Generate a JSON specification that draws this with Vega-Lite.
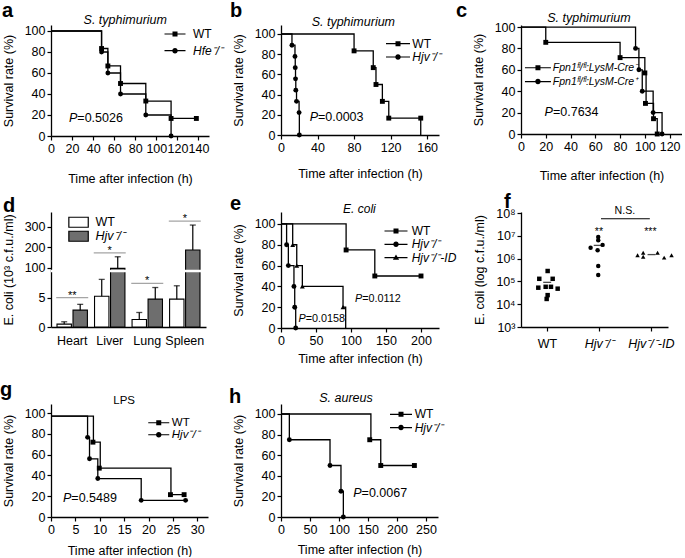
{
 "$schema": "https://vega.github.io/schema/vega-lite/v6.json",
 "padding": {"left": 0, "top": 0, "right": 0, "bottom": 0},
 "config": {
  "font": "Liberation Sans",
  "view": {"stroke": null},
  "axis": {"grid": false, "domainColor": "#000", "tickColor": "#000", "labelColor": "#000", "titleColor": "#000", "labelFontSize": 12.5, "titleFontSize": 12.5, "titleFontWeight": "normal", "tickSize": 4, "labelPadding": 2, "labelFlush": false, "labelOverlap": false, "domainWidth": 1.3, "tickWidth": 1.2, "titlePadding": 9, "tickCount": 40},
  "axisX": {"titlePadding": 14},
  "legend": {"labelFontSize": 12, "labelColor": "#000", "padding": 0, "symbolSize": 100, "symbolStrokeWidth": 1.2, "symbolStrokeColor": "#000", "symbolFillColor": "#000", "symbolOpacity": 1},
  "title": {"anchor": "start", "frame": "group", "fontSize": 20, "fontWeight": "bold", "color": "#000"},
  "text": {"color": "#000", "font": "Liberation Sans"}
 },
 "datasets": {
  "a_line": [
   {"g": "WT", "t": 0, "s": 100}, {"g": "WT", "t": 48, "s": 83.3}, {"g": "WT", "t": 54, "s": 66.7}, {"g": "WT", "t": 66, "s": 50}, {"g": "WT", "t": 90, "s": 33.3}, {"g": "WT", "t": 114, "s": 16.7}, {"g": "WT", "t": 138, "s": 16.7},
   {"g": "Hfe⁻/⁻", "t": 0, "s": 100}, {"g": "Hfe⁻/⁻", "t": 48, "s": 80}, {"g": "Hfe⁻/⁻", "t": 54, "s": 60}, {"g": "Hfe⁻/⁻", "t": 66, "s": 40}, {"g": "Hfe⁻/⁻", "t": 90, "s": 20}, {"g": "Hfe⁻/⁻", "t": 114, "s": 0}
  ],
  "a_pts": [
   {"g": "WT", "t": 48, "s": 83.3}, {"g": "WT", "t": 54, "s": 66.7}, {"g": "WT", "t": 66, "s": 50}, {"g": "WT", "t": 90, "s": 33.3}, {"g": "WT", "t": 114, "s": 16.7}, {"g": "WT", "t": 138, "s": 16.7},
   {"g": "Hfe⁻/⁻", "t": 48, "s": 80}, {"g": "Hfe⁻/⁻", "t": 54, "s": 60}, {"g": "Hfe⁻/⁻", "t": 66, "s": 40}, {"g": "Hfe⁻/⁻", "t": 90, "s": 20}, {"g": "Hfe⁻/⁻", "t": 114, "s": 0}
  ],
  "b_line": [
   {"g": "WT", "t": 0, "s": 100}, {"g": "WT", "t": 80, "s": 83.3}, {"g": "WT", "t": 101, "s": 66.7}, {"g": "WT", "t": 104, "s": 50}, {"g": "WT", "t": 111, "s": 33.3}, {"g": "WT", "t": 118, "s": 16.7}, {"g": "WT", "t": 153, "s": 0},
   {"g": "Hjv⁻/⁻", "t": 0, "s": 100}, {"g": "Hjv⁻/⁻", "t": 12, "s": 88.9}, {"g": "Hjv⁻/⁻", "t": 15.3, "s": 77.8}, {"g": "Hjv⁻/⁻", "t": 15.6, "s": 66.7}, {"g": "Hjv⁻/⁻", "t": 15.9, "s": 55.6}, {"g": "Hjv⁻/⁻", "t": 16.2, "s": 44.4}, {"g": "Hjv⁻/⁻", "t": 17, "s": 33.3}, {"g": "Hjv⁻/⁻", "t": 19.8, "s": 22.2}, {"g": "Hjv⁻/⁻", "t": 20.1, "s": 0}
  ],
  "b_pts": [
   {"g": "WT", "t": 80, "s": 83.3}, {"g": "WT", "t": 101, "s": 66.7}, {"g": "WT", "t": 104, "s": 50}, {"g": "WT", "t": 111, "s": 33.3}, {"g": "WT", "t": 118, "s": 16.7}, {"g": "WT", "t": 153, "s": 16.7},
   {"g": "Hjv⁻/⁻", "t": 12, "s": 88.9}, {"g": "Hjv⁻/⁻", "t": 15.3, "s": 77.8}, {"g": "Hjv⁻/⁻", "t": 15.6, "s": 66.7}, {"g": "Hjv⁻/⁻", "t": 15.9, "s": 55.6}, {"g": "Hjv⁻/⁻", "t": 16.2, "s": 44.4}, {"g": "Hjv⁻/⁻", "t": 17, "s": 33.3}, {"g": "Hjv⁻/⁻", "t": 19.8, "s": 22.2}, {"g": "Hjv⁻/⁻", "t": 20.1, "s": 0}
  ],
  "c_line": [
   {"g": "Fpn1ᶠˡ/ᶠˡ:LysM-Cre⁻", "t": 0, "s": 100}, {"g": "Fpn1ᶠˡ/ᶠˡ:LysM-Cre⁻", "t": 20, "s": 85.7}, {"g": "Fpn1ᶠˡ/ᶠˡ:LysM-Cre⁻", "t": 80, "s": 71.4}, {"g": "Fpn1ᶠˡ/ᶠˡ:LysM-Cre⁻", "t": 100, "s": 57.1}, {"g": "Fpn1ᶠˡ/ᶠˡ:LysM-Cre⁻", "t": 101, "s": 28.6}, {"g": "Fpn1ᶠˡ/ᶠˡ:LysM-Cre⁻", "t": 107, "s": 14.3}, {"g": "Fpn1ᶠˡ/ᶠˡ:LysM-Cre⁻", "t": 110, "s": 0},
   {"g": "Fpn1ᶠˡ/ᶠˡ:LysM-Cre⁺", "t": 0, "s": 100}, {"g": "Fpn1ᶠˡ/ᶠˡ:LysM-Cre⁺", "t": 92.5, "s": 80}, {"g": "Fpn1ᶠˡ/ᶠˡ:LysM-Cre⁺", "t": 95.2, "s": 60}, {"g": "Fpn1ᶠˡ/ᶠˡ:LysM-Cre⁺", "t": 97.9, "s": 40}, {"g": "Fpn1ᶠˡ/ᶠˡ:LysM-Cre⁺", "t": 106.7, "s": 20}, {"g": "Fpn1ᶠˡ/ᶠˡ:LysM-Cre⁺", "t": 113.9, "s": 0}
  ],
  "c_pts": [
   {"g": "Fpn1ᶠˡ/ᶠˡ:LysM-Cre⁻", "t": 20, "s": 85.7}, {"g": "Fpn1ᶠˡ/ᶠˡ:LysM-Cre⁻", "t": 80, "s": 71.4}, {"g": "Fpn1ᶠˡ/ᶠˡ:LysM-Cre⁻", "t": 100, "s": 57.1}, {"g": "Fpn1ᶠˡ/ᶠˡ:LysM-Cre⁻", "t": 100.5, "s": 28.6}, {"g": "Fpn1ᶠˡ/ᶠˡ:LysM-Cre⁻", "t": 107, "s": 14.3}, {"g": "Fpn1ᶠˡ/ᶠˡ:LysM-Cre⁻", "t": 110, "s": 0},
   {"g": "Fpn1ᶠˡ/ᶠˡ:LysM-Cre⁺", "t": 92.5, "s": 80}, {"g": "Fpn1ᶠˡ/ᶠˡ:LysM-Cre⁺", "t": 95.2, "s": 60}, {"g": "Fpn1ᶠˡ/ᶠˡ:LysM-Cre⁺", "t": 97.9, "s": 40}, {"g": "Fpn1ᶠˡ/ᶠˡ:LysM-Cre⁺", "t": 106.7, "s": 20}, {"g": "Fpn1ᶠˡ/ᶠˡ:LysM-Cre⁺", "t": 113.9, "s": 0}
  ],
  "d_bars": [
   {"organ": "Heart", "g": "WT", "v": 0.5, "hi": 0.9}, {"organ": "Heart", "g": "Hjv⁻/⁻", "v": 2.9, "hi": 3.9},
   {"organ": "Liver", "g": "WT", "v": 5.3, "hi": 8.2}, {"organ": "Liver", "g": "Hjv⁻/⁻", "v": 98, "hi": 154},
   {"organ": "Lung", "g": "WT", "v": 1.3, "hi": 2.5}, {"organ": "Lung", "g": "Hjv⁻/⁻", "v": 4.8, "hi": 6.8},
   {"organ": "Spleen", "g": "WT", "v": 4.8, "hi": 7.1}, {"organ": "Spleen", "g": "Hjv⁻/⁻", "v": 187, "hi": 307}
  ],
  "d_sig": [
   {"organ": "Heart", "y": 5.05, "star": "**"}, {"organ": "Liver", "y": 173, "star": "*"}, {"organ": "Lung", "y": 7.5, "star": "*"}, {"organ": "Spleen", "y": 326, "star": "*"}
  ],
  "e_line": [
   {"g": "WT", "t": 0, "s": 100}, {"g": "WT", "t": 93, "s": 75}, {"g": "WT", "t": 134, "s": 50}, {"g": "WT", "t": 200, "s": 50},
   {"g": "Hjv⁻/⁻", "t": 0, "s": 100}, {"g": "Hjv⁻/⁻", "t": 8, "s": 80}, {"g": "Hjv⁻/⁻", "t": 10.5, "s": 60}, {"g": "Hjv⁻/⁻", "t": 18.5, "s": 40}, {"g": "Hjv⁻/⁻", "t": 19.6, "s": 20}, {"g": "Hjv⁻/⁻", "t": 21, "s": 0},
   {"g": "Hjv⁻/⁻-ID", "t": 0, "s": 100}, {"g": "Hjv⁻/⁻-ID", "t": 16.7, "s": 80}, {"g": "Hjv⁻/⁻-ID", "t": 22.5, "s": 60}, {"g": "Hjv⁻/⁻-ID", "t": 30.5, "s": 40}, {"g": "Hjv⁻/⁻-ID", "t": 88.6, "s": 20}, {"g": "Hjv⁻/⁻-ID", "t": 92.4, "s": 0}
  ],
  "e_pts": [
   {"g": "WT", "t": 93, "s": 75}, {"g": "WT", "t": 134, "s": 50}, {"g": "WT", "t": 200, "s": 50},
   {"g": "Hjv⁻/⁻", "t": 8, "s": 80}, {"g": "Hjv⁻/⁻", "t": 10.5, "s": 60}, {"g": "Hjv⁻/⁻", "t": 18.5, "s": 40}, {"g": "Hjv⁻/⁻", "t": 19.6, "s": 20}, {"g": "Hjv⁻/⁻", "t": 21, "s": 0},
   {"g": "Hjv⁻/⁻-ID", "t": 16.7, "s": 80}, {"g": "Hjv⁻/⁻-ID", "t": 22.5, "s": 60}, {"g": "Hjv⁻/⁻-ID", "t": 30.5, "s": 40}, {"g": "Hjv⁻/⁻-ID", "t": 88.6, "s": 20}
  ],
  "f_pts": [
   {"g": "WT", "x": 0.513, "v": 286000}, {"g": "WT", "x": 0.352, "v": 130000}, {"g": "WT", "x": 0.61, "v": 130000}, {"g": "WT", "x": 0.333, "v": 53000}, {"g": "WT", "x": 0.475, "v": 58000}, {"g": "WT", "x": 0.577, "v": 58000}, {"g": "WT", "x": 0.706, "v": 48000}, {"g": "WT", "x": 0.513, "v": 25000}, {"g": "WT", "x": 0.494, "v": 17000},
   {"g": "Hjv", "x": 1.487, "v": 8900000}, {"g": "Hjv", "x": 1.487, "v": 6400000}, {"g": "Hjv", "x": 1.34, "v": 3000000}, {"g": "Hjv", "x": 1.571, "v": 4000000}, {"g": "Hjv", "x": 1.475, "v": 2300000}, {"g": "Hjv", "x": 1.487, "v": 470000}, {"g": "Hjv", "x": 1.487, "v": 190000},
   {"g": "ID", "x": 2.244, "v": 1400000}, {"g": "ID", "x": 2.352, "v": 1800000}, {"g": "ID", "x": 2.352, "v": 1200000}, {"g": "ID", "x": 2.629, "v": 1800000}, {"g": "ID", "x": 2.756, "v": 1100000}, {"g": "ID", "x": 2.898, "v": 1400000}
  ],
  "f_mean": [
   {"g": "WT", "x": 0.504, "v": 91000}, {"g": "Hjv", "x": 1.477, "v": 3800000}, {"g": "ID", "x": 2.513, "v": 1500000}
  ],
  "g_line": [
   {"g": "WT", "t": 0, "s": 97}, {"g": "WT", "t": 8.7, "s": 72}, {"g": "WT", "t": 10.1, "s": 47}, {"g": "WT", "t": 24.6, "s": 21.5}, {"g": "WT", "t": 27.3, "s": 21.5},
   {"g": "Hjv⁻/⁻", "t": 0, "s": 97}, {"g": "Hjv⁻/⁻", "t": 7.5, "s": 76.6}, {"g": "Hjv⁻/⁻", "t": 7.9, "s": 56}, {"g": "Hjv⁻/⁻", "t": 9.6, "s": 37}, {"g": "Hjv⁻/⁻", "t": 18.5, "s": 16}, {"g": "Hjv⁻/⁻", "t": 27.6, "s": 16}
  ],
  "g_pts": [
   {"g": "WT", "t": 8.6, "s": 72}, {"g": "WT", "t": 9.9, "s": 47}, {"g": "WT", "t": 24.5, "s": 21.5}, {"g": "WT", "t": 27.3, "s": 21.5},
   {"g": "Hjv⁻/⁻", "t": 7.5, "s": 76.6}, {"g": "Hjv⁻/⁻", "t": 7.9, "s": 56}, {"g": "Hjv⁻/⁻", "t": 9.6, "s": 37}, {"g": "Hjv⁻/⁻", "t": 18.5, "s": 16}, {"g": "Hjv⁻/⁻", "t": 27.6, "s": 16}
  ],
  "h_line": [
   {"g": "WT", "t": 0, "s": 100}, {"g": "WT", "t": 155, "s": 75}, {"g": "WT", "t": 172, "s": 50}, {"g": "WT", "t": 230, "s": 50},
   {"g": "Hjv⁻/⁻", "t": 0, "s": 100}, {"g": "Hjv⁻/⁻", "t": 14.4, "s": 75}, {"g": "Hjv⁻/⁻", "t": 84.5, "s": 50}, {"g": "Hjv⁻/⁻", "t": 103.4, "s": 25}, {"g": "Hjv⁻/⁻", "t": 107.5, "s": 0}
  ],
  "h_pts": [
   {"g": "WT", "t": 153, "s": 75}, {"g": "WT", "t": 172, "s": 50}, {"g": "WT", "t": 230, "s": 50},
   {"g": "Hjv⁻/⁻", "t": 14.4, "s": 75}, {"g": "Hjv⁻/⁻", "t": 84.5, "s": 50}, {"g": "Hjv⁻/⁻", "t": 103.4, "s": 25}, {"g": "Hjv⁻/⁻", "t": 107.5, "s": 0}
  ]
 },
 "columns": 3,
 "spacing": {"row": 76, "column": 0},
 "bounds": "flush",
 "resolve": {"scale": {"shape": "independent", "fill": "independent", "stroke": "independent"}, "legend": {"shape": "independent", "fill": "independent", "stroke": "independent"}},
 "concat": [
  {
   "width": 230, "height": 111,
   "title": {"text": "a", "dx": -49, "offset": -7},
   "layer": [
    {"data": {"name": "a_line"}, "mark": {"type": "line", "interpolate": "step-after", "strokeWidth": 1.3},
     "encoding": {
      "x": {"field": "t", "type": "quantitative", "scale": {"domain": [0, 150], "range": [0, 158], "nice": false, "zero": false}, "axis": {"values": [0, 20, 40, 60, 80, 100, 120, 140], "tickCount": 40, "labelOverlap": false, "title": "Time after infection (h)", "titlePadding": 18}},
      "y": {"field": "s", "type": "quantitative", "scale": {"domain": [0, 105.7], "nice": false}, "axis": {"values": [0, 20, 40, 60, 80, 100], "tickCount": 40, "labelOverlap": false, "title": "Survival rate (%)"}},
      "stroke": {"field": "g", "type": "nominal", "scale": {"domain": ["WT", "Hfe⁻/⁻"], "range": ["black", "black"]},
       "legend": {"title": null, "orient": "none", "legendX": 118, "legendY": 3, "rowPadding": 4.7, "labelOffset": 12, "symbolSize": 100, "symbolFillColor": "black", "symbolStrokeWidth": 0,
        "symbolType": {"expr": "datum.value == 'WT' ? 'M-2.1,-0.12H2.1V0.12H-2.1Z M-0.5,-0.5H0.5V0.5H-0.5Z' : 'M-2.1,-0.12H2.1V0.12H-2.1Z M0.55,0A0.55,0.55,0,1,1,-0.55,0A0.55,0.55,0,1,1,0.55,0Z'"},
        "labelFontStyle": {"expr": "datum.label == 'WT' ? 'normal' : 'italic'"}}},
      "order": {"field": "t"}}},
    {"data": {"name": "a_pts"}, "mark": {"type": "point", "filled": true, "color": "black", "opacity": 1, "size": 24},
     "encoding": {
      "x": {"field": "t", "type": "quantitative"}, "y": {"field": "s", "type": "quantitative"},
      "shape": {"field": "g", "type": "nominal", "scale": {"domain": ["Hfe⁻/⁻", "WT"], "range": ["circle", "square"]}, "legend": null}}},
    {"data": {"values": [{"label": "S. typhimurium", "t": 70.5, "s": 106.2}]}, "mark": {"type": "text", "color": "black", "fontStyle": "italic", "fontSize": 12.5, "baseline": "alphabetic"},
     "encoding": {"x": {"field": "t", "type": "quantitative"}, "y": {"field": "s", "type": "quantitative"}, "text": {"field": "label"}}},
    {"data": {"values": [{"p": "P", "v": "=0.5026", "t": 25, "s": 13.3}]}, "mark": {"type": "text", "color": "black", "fontStyle": "italic", "fontSize": 12.5, "baseline": "alphabetic", "align": "right"},
     "encoding": {"x": {"field": "t", "type": "quantitative"}, "y": {"field": "s", "type": "quantitative"}, "text": {"field": "p"}}},
    {"data": {"values": [{"p": "P", "v": "=0.5026", "t": 25, "s": 13.3}]}, "mark": {"type": "text", "color": "black", "fontSize": 12.5, "baseline": "alphabetic", "align": "left"},
     "encoding": {"x": {"field": "t", "type": "quantitative"}, "y": {"field": "s", "type": "quantitative"}, "text": {"field": "v"}}}
   ]
  },
  {
   "width": 240, "height": 110,
   "title": {"text": "b", "dx": -51, "offset": -5},
   "layer": [
    {"data": {"name": "b_line"}, "mark": {"type": "line", "interpolate": "step-after", "strokeWidth": 1.3},
     "encoding": {
      "x": {"field": "t", "type": "quantitative", "scale": {"domain": [0, 173], "range": [0, 158], "nice": false, "zero": false}, "axis": {"values": [0, 40, 80, 120, 160], "tickCount": 40, "labelOverlap": false, "title": "Time after infection (h)", "titlePadding": 14}},
      "y": {"field": "s", "type": "quantitative", "scale": {"domain": [0, 108.9], "nice": false}, "axis": {"values": [0, 20, 40, 60, 80, 100], "tickCount": 40, "labelOverlap": false, "title": "Survival rate (%)"}},
      "stroke": {"field": "g", "type": "nominal", "scale": {"domain": ["WT", "Hjv⁻/⁻"], "range": ["black", "black"]},
       "legend": {"title": null, "orient": "none", "legendX": 111, "legendY": 12.7, "rowPadding": 1.3, "labelOffset": 8.3, "symbolSize": 100, "symbolFillColor": "black", "symbolStrokeWidth": 0,
        "symbolType": {"expr": "datum.value == 'WT' ? 'M-2.4,-0.12H2.4V0.12H-2.4Z M-0.5,-0.5H0.5V0.5H-0.5Z' : 'M-2.4,-0.12H2.4V0.12H-2.4Z M0.55,0A0.55,0.55,0,1,1,-0.55,0A0.55,0.55,0,1,1,0.55,0Z'"},
        "labelFontStyle": {"expr": "datum.label == 'WT' ? 'normal' : 'italic'"}}},
      "order": {"field": "t"}}},
    {"data": {"name": "b_pts"}, "mark": {"type": "point", "filled": true, "color": "black", "opacity": 1, "size": 24},
     "encoding": {
      "x": {"field": "t", "type": "quantitative"}, "y": {"field": "s", "type": "quantitative"},
      "shape": {"field": "g", "type": "nominal", "scale": {"domain": ["Hjv⁻/⁻", "WT"], "range": ["circle", "square"]}, "legend": null}}},
    {"data": {"values": [{"label": "S. typhimurium", "t": 79.2, "s": 107.9}]}, "mark": {"type": "text", "color": "black", "fontStyle": "italic", "fontSize": 12.5, "baseline": "alphabetic"},
     "encoding": {"x": {"field": "t", "type": "quantitative"}, "y": {"field": "s", "type": "quantitative"}, "text": {"field": "label"}}},
    {"data": {"values": [{"p": "P", "v": "=0.0003", "t": 40.5, "s": 13.9}]}, "mark": {"type": "text", "color": "black", "fontStyle": "italic", "fontSize": 12.5, "baseline": "alphabetic", "align": "right"},
     "encoding": {"x": {"field": "t", "type": "quantitative"}, "y": {"field": "s", "type": "quantitative"}, "text": {"field": "p"}}},
    {"data": {"values": [{"p": "P", "v": "=0.0003", "t": 40.5, "s": 13.9}]}, "mark": {"type": "text", "color": "black", "fontSize": 12.5, "baseline": "alphabetic", "align": "left"},
     "encoding": {"x": {"field": "t", "type": "quantitative"}, "y": {"field": "s", "type": "quantitative"}, "text": {"field": "v"}}}
   ]
  },
  {
   "width": 161, "height": 109,
   "title": {"text": "c", "dx": -65, "offset": -9},
   "layer": [
    {"data": {"name": "c_line"}, "mark": {"type": "line", "interpolate": "step-after", "strokeWidth": 1.3},
     "encoding": {
      "x": {"field": "t", "type": "quantitative", "scale": {"domain": [0, 130], "nice": false, "zero": false}, "axis": {"values": [0, 20, 40, 60, 80, 100, 120], "tickCount": 40, "labelOverlap": false, "title": "Time after infection (h)", "titlePadding": 17}},
      "y": {"field": "s", "type": "quantitative", "scale": {"domain": [0, 101.9], "nice": false}, "axis": {"values": [0, 20, 40, 60, 80, 100], "tickCount": 40, "labelOverlap": false, "title": "Survival rate (%)"}},
      "stroke": {"field": "g", "type": "nominal", "scale": {"domain": ["Fpn1ᶠˡ/ᶠˡ:LysM-Cre⁻", "Fpn1ᶠˡ/ᶠˡ:LysM-Cre⁺"], "range": ["black", "black"]},
       "legend": {"title": null, "orient": "none", "legendX": 11.7, "legendY": 37.5, "rowPadding": 2.8, "labelOffset": 9.6, "labelFontSize": 10.5, "labelFontStyle": "italic", "symbolSize": 100, "symbolFillColor": "black", "symbolStrokeWidth": 0,
        "symbolType": {"expr": "datum.value == 'Fpn1ᶠˡ/ᶠˡ:LysM-Cre⁻' ? 'M-2.6,-0.12H2.6V0.12H-2.6Z M-0.5,-0.5H0.5V0.5H-0.5Z' : 'M-2.6,-0.12H2.6V0.12H-2.6Z M0.55,0A0.55,0.55,0,1,1,-0.55,0A0.55,0.55,0,1,1,0.55,0Z'"}}},
      "order": {"field": "t"}}},
    {"data": {"name": "c_pts"}, "mark": {"type": "point", "filled": true, "color": "black", "opacity": 1, "size": 24},
     "encoding": {
      "x": {"field": "t", "type": "quantitative"}, "y": {"field": "s", "type": "quantitative"},
      "shape": {"field": "g", "type": "nominal", "scale": {"domain": ["Fpn1ᶠˡ/ᶠˡ:LysM-Cre⁺", "Fpn1ᶠˡ/ᶠˡ:LysM-Cre⁻"], "range": ["circle", "square"]}, "legend": null}}},
    {"data": {"values": [{"label": "S. typhimurium", "t": 54.8, "s": 105}]}, "mark": {"type": "text", "color": "black", "fontStyle": "italic", "fontSize": 12.5, "baseline": "alphabetic"},
     "encoding": {"x": {"field": "t", "type": "quantitative"}, "y": {"field": "s", "type": "quantitative"}, "text": {"field": "label"}}},
    {"data": {"values": [{"p": "P", "v": "=0.7634", "t": 25.8, "s": 16.8}]}, "mark": {"type": "text", "color": "black", "fontStyle": "italic", "fontSize": 12.5, "baseline": "alphabetic", "align": "right"},
     "encoding": {"x": {"field": "t", "type": "quantitative"}, "y": {"field": "s", "type": "quantitative"}, "text": {"field": "p"}}},
    {"data": {"values": [{"p": "P", "v": "=0.7634", "t": 25.8, "s": 16.8}]}, "mark": {"type": "text", "color": "black", "fontSize": 12.5, "baseline": "alphabetic", "align": "left"},
     "encoding": {"x": {"field": "t", "type": "quantitative"}, "y": {"field": "s", "type": "quantitative"}, "text": {"field": "v"}}}
   ]
  },
  {
   "width": 230, "height": 115,
   "title": {"text": "d", "dx": -48, "offset": -4},
   "layer": [
    {"data": {"name": "d_bars"}, "mark": {"type": "bar", "stroke": "black", "strokeWidth": 1.1},
     "encoding": {
      "x": {"field": "organ", "type": "nominal", "sort": ["Heart", "Liver", "Lung", "Spleen"], "scale": {"range": [0, 155], "paddingInner": 0.19, "paddingOuter": 0.16}, "axis": {"title": null, "labelAngle": 0, "ticks": false, "labelPadding": 7, "labelOverlap": false}},
      "xOffset": {"field": "g", "type": "nominal", "sort": ["WT", "Hjv⁻/⁻"], "scale": {"paddingInner": 0.1}},
      "y": {"field": "v", "type": "quantitative", "scale": {"domain": [0, 9.3, 95, 370], "range": [115, 61, 57, 0], "nice": false, "zero": false}, "axis": {"values": [0, 5, 100, 200, 300], "tickCount": 40, "labelOverlap": false, "title": "E. coli (10³ c.f.u./ml)"}},
      "fill": {"field": "g", "type": "nominal", "scale": {"domain": ["WT", "Hjv⁻/⁻"], "range": ["white", "#6e6e6e"]},
       "legend": {"title": null, "orient": "none", "legendX": 21.3, "legendY": 4, "symbolType": "M-1.94,-1H1.94V1H-1.94Z", "symbolSize": 100, "symbolStrokeColor": "black", "symbolStrokeWidth": 1.2, "rowPadding": -2.5, "labelOffset": 10.7, "labelFontSize": 12.5, "labelFontStyle": {"expr": "datum.label == 'WT' ? 'normal' : 'italic'"}}}}},
    {"data": {"values": [{}]}, "mark": {"type": "rule", "color": "white", "strokeWidth": 2.5}, "encoding": {"y": {"datum": 50, "type": "quantitative"}}},
    {"data": {"name": "d_bars"}, "mark": {"type": "rule", "color": "black", "strokeWidth": 1.2},
     "encoding": {
      "x": {"field": "organ", "type": "nominal", "sort": ["Heart", "Liver", "Lung", "Spleen"]},
      "xOffset": {"field": "g", "type": "nominal", "sort": ["WT", "Hjv⁻/⁻"]},
      "y": {"field": "v", "type": "quantitative"}, "y2": {"field": "hi"}}},
    {"data": {"name": "d_bars"}, "mark": {"type": "tick", "color": "black", "size": 6, "thickness": 1.3, "orient": "horizontal"},
     "encoding": {
      "x": {"field": "organ", "type": "nominal", "sort": ["Heart", "Liver", "Lung", "Spleen"]},
      "xOffset": {"field": "g", "type": "nominal", "sort": ["WT", "Hjv⁻/⁻"]},
      "y": {"field": "hi", "type": "quantitative"}}},
    {"data": {"name": "d_sig"}, "mark": {"type": "tick", "color": "#7f7f7f", "size": 32, "thickness": 1.3, "orient": "horizontal"},
     "encoding": {
      "x": {"field": "organ", "type": "nominal", "sort": ["Heart", "Liver", "Lung", "Spleen"]},
      "y": {"field": "y", "type": "quantitative"}}},
    {"data": {"name": "d_sig"}, "mark": {"type": "text", "color": "black", "fontSize": 11, "baseline": "alphabetic", "dy": 1},
     "encoding": {
      "x": {"field": "organ", "type": "nominal", "sort": ["Heart", "Liver", "Lung", "Spleen"]},
      "y": {"field": "y", "type": "quantitative"}, "text": {"field": "star"}}}
   ]
  },
  {
   "width": 240, "height": 116,
   "title": {"text": "e", "dx": -51, "offset": -11},
   "layer": [
    {"data": {"name": "e_line"}, "mark": {"type": "line", "interpolate": "step-after", "strokeWidth": 1.3},
     "encoding": {
      "x": {"field": "t", "type": "quantitative", "scale": {"domain": [0, 225.7], "range": [0, 158], "nice": false, "zero": false}, "axis": {"values": [0, 50, 100, 150, 200], "tickCount": 40, "labelOverlap": false, "title": "Time after infection (h)", "titlePadding": 6}},
      "y": {"field": "s", "type": "quantitative", "scale": {"domain": [0, 111.5], "nice": false}, "axis": {"values": [0, 20, 40, 60, 80, 100], "tickCount": 40, "labelOverlap": false, "title": "Survival rate (%)"}},
      "stroke": {"field": "g", "type": "nominal", "scale": {"domain": ["WT", "Hjv⁻/⁻", "Hjv⁻/⁻-ID"], "range": ["black", "black", "black"]},
       "legend": {"title": null, "orient": "none", "legendX": 109, "legendY": 13, "rowPadding": 1.3, "labelOffset": 9.7, "symbolSize": 100, "symbolFillColor": "black", "symbolStrokeWidth": 0,
        "symbolType": {"expr": "datum.value == 'WT' ? 'M-2.3,-0.12H2.3V0.12H-2.3Z M-0.5,-0.5H0.5V0.5H-0.5Z' : (datum.value == 'Hjv⁻/⁻' ? 'M-2.3,-0.12H2.3V0.12H-2.3Z M0.55,0A0.55,0.55,0,1,1,-0.55,0A0.55,0.55,0,1,1,0.55,0Z' : 'M-2.3,-0.12H2.3V0.12H-2.3Z M0,-0.62L0.62,0.45H-0.62Z')"},
        "labelFontStyle": {"expr": "datum.label == 'WT' ? 'normal' : 'italic'"}}},
      "order": {"field": "t"}}},
    {"data": {"name": "e_pts"}, "mark": {"type": "point", "filled": true, "color": "black", "opacity": 1, "size": 24},
     "encoding": {
      "x": {"field": "t", "type": "quantitative"}, "y": {"field": "s", "type": "quantitative"},
      "shape": {"field": "g", "type": "nominal", "scale": {"domain": ["Hjv⁻/⁻", "WT", "Hjv⁻/⁻-ID"], "range": ["circle", "square", "triangle-up"]}, "legend": null}}},
    {"data": {"values": [{"label": "E. coli", "t": 112, "s": 110.9}]}, "mark": {"type": "text", "color": "black", "fontStyle": "italic", "fontSize": 12, "baseline": "alphabetic"},
     "encoding": {"x": {"field": "t", "type": "quantitative"}, "y": {"field": "s", "type": "quantitative"}, "text": {"field": "label"}}},
    {"data": {"values": [{"p": "P", "v": "=0.0112", "t": 116, "s": 25}, {"p": "P", "v": "=0.0158", "t": 35.3, "s": 5.3}]}, "mark": {"type": "text", "color": "black", "fontStyle": "italic", "fontSize": 10.8, "baseline": "alphabetic", "align": "right"},
     "encoding": {"x": {"field": "t", "type": "quantitative"}, "y": {"field": "s", "type": "quantitative"}, "text": {"field": "p"}}},
    {"data": {"values": [{"p": "P", "v": "=0.0112", "t": 116, "s": 25}, {"p": "P", "v": "=0.0158", "t": 35.3, "s": 5.3}]}, "mark": {"type": "text", "color": "black", "fontSize": 10.8, "baseline": "alphabetic", "align": "left"},
     "encoding": {"x": {"field": "t", "type": "quantitative"}, "y": {"field": "s", "type": "quantitative"}, "text": {"field": "v"}}}
   ]
  },
  {
   "width": 147, "height": 115,
   "title": {"text": "f", "dx": -17, "offset": -6},
   "layer": [
    {"data": {"name": "f_pts"}, "mark": {"type": "point", "filled": true, "color": "black", "opacity": 1, "size": 20},
     "encoding": {
      "x": {"field": "x", "type": "quantitative", "scale": {"domain": [0, 2.83], "nice": false, "zero": false},
       "axis": {"values": [0.5, 1.5, 2.5], "tickCount": 40, "title": null, "labelPadding": 6, "labelOverlap": false, "labelExpr": "datum.value < 1 ? 'WT' : datum.value < 2 ? 'Hjv⁻/⁻' : 'Hjv⁻/⁻-ID'", "labelFontStyle": {"condition": {"test": "datum.value < 1", "value": "normal"}, "value": "italic"}}},
      "y": {"field": "v", "type": "quantitative", "scale": {"type": "log", "domain": [1000, 110700000], "nice": false},
       "axis": {"values": [1000, 10000, 100000, 1000000, 10000000, 100000000], "tickCount": 40, "labelOverlap": false, "title": "E. coli (log c.f.u./ml)", "labelExpr": "'10' + ['⁰','¹','²','³','⁴','⁵','⁶','⁷','⁸'][round(log(datum.value)/LN10)]"}},
      "shape": {"field": "g", "type": "nominal", "scale": {"domain": ["WT", "Hjv", "ID"], "range": ["square", "circle", "triangle-up"]}, "legend": null}}},
    {"data": {"name": "f_mean"}, "mark": {"type": "tick", "orient": "horizontal", "size": 8, "thickness": 1.3, "color": "black"},
     "encoding": {"x": {"field": "x", "type": "quantitative"}, "y": {"field": "v", "type": "quantitative"}}},
    {"data": {"values": [{"x": 1.54, "x2": 2.48, "v": 56000000}]}, "mark": {"type": "rule", "color": "black", "strokeWidth": 1.2},
     "encoding": {"x": {"field": "x", "type": "quantitative"}, "x2": {"field": "x2"}, "y": {"field": "v", "type": "quantitative"}}},
    {"data": {"values": [{"x": 2.0, "v": 87000000, "label": "N.S."}, {"x": 1.5, "v": 11000000, "label": "**"}, {"x": 2.49, "v": 11000000, "label": "***"}]}, "mark": {"type": "text", "color": "black", "fontSize": 10.6, "baseline": "alphabetic"},
     "encoding": {"x": {"field": "x", "type": "quantitative"}, "y": {"field": "v", "type": "quantitative"}, "text": {"field": "label"}}}
   ]
  },
  {
   "width": 230, "height": 113,
   "title": {"text": "g", "dx": -51, "offset": -5},
   "layer": [
    {"data": {"name": "g_line"}, "mark": {"type": "line", "interpolate": "step-after", "strokeWidth": 1.3},
     "encoding": {
      "x": {"field": "t", "type": "quantitative", "scale": {"domain": [0, 32.2], "range": [0, 157], "nice": false, "zero": false}, "axis": {"values": [0, 5, 10, 15, 20, 25, 30], "tickCount": 40, "labelOverlap": false, "title": "Time after infection (h)", "titlePadding": 9}},
      "y": {"field": "s", "type": "quantitative", "scale": {"domain": [0, 108.7], "nice": false}, "axis": {"values": [0, 20, 40, 60, 80, 100], "tickCount": 40, "labelOverlap": false, "title": "Survival rate (%)"}},
      "stroke": {"field": "g", "type": "nominal", "scale": {"domain": ["WT", "Hjv⁻/⁻"], "range": ["black", "black"]},
       "legend": {"title": null, "orient": "none", "legendX": 102, "legendY": 13, "rowPadding": -2, "labelOffset": 7.3, "labelFontSize": 11.5, "symbolSize": 100, "symbolFillColor": "black", "symbolStrokeWidth": 0,
        "symbolType": {"expr": "datum.value == 'WT' ? 'M-2.1,-0.12H2.1V0.12H-2.1Z M-0.5,-0.5H0.5V0.5H-0.5Z' : 'M-2.1,-0.12H2.1V0.12H-2.1Z M0.55,0A0.55,0.55,0,1,1,-0.55,0A0.55,0.55,0,1,1,0.55,0Z'"},
        "labelFontStyle": {"expr": "datum.label == 'WT' ? 'normal' : 'italic'"}}},
      "order": {"field": "t"}}},
    {"data": {"name": "g_pts"}, "mark": {"type": "point", "filled": true, "color": "black", "opacity": 1, "size": 24},
     "encoding": {
      "x": {"field": "t", "type": "quantitative"}, "y": {"field": "s", "type": "quantitative"},
      "shape": {"field": "g", "type": "nominal", "scale": {"domain": ["Hjv⁻/⁻", "WT"], "range": ["circle", "square"]}, "legend": null}}},
    {"data": {"values": [{"label": "LPS", "t": 15, "s": 108.7}]}, "mark": {"type": "text", "color": "black", "fontSize": 11.5, "baseline": "alphabetic"},
     "encoding": {"x": {"field": "t", "type": "quantitative"}, "y": {"field": "s", "type": "quantitative"}, "text": {"field": "label"}}},
    {"data": {"values": [{"p": "P", "v": "=0.5489", "t": 4.17, "s": 14.4}]}, "mark": {"type": "text", "color": "black", "fontStyle": "italic", "fontSize": 12.5, "baseline": "alphabetic", "align": "right"},
     "encoding": {"x": {"field": "t", "type": "quantitative"}, "y": {"field": "s", "type": "quantitative"}, "text": {"field": "p"}}},
    {"data": {"values": [{"p": "P", "v": "=0.5489", "t": 4.17, "s": 14.4}]}, "mark": {"type": "text", "color": "black", "fontSize": 12.5, "baseline": "alphabetic", "align": "left"},
     "encoding": {"x": {"field": "t", "type": "quantitative"}, "y": {"field": "s", "type": "quantitative"}, "text": {"field": "v"}}}
   ]
  },
  {
   "width": 240, "height": 113,
   "title": {"text": "h", "dx": -52, "offset": -15},
   "layer": [
    {"data": {"name": "h_line"}, "mark": {"type": "line", "interpolate": "step-after", "strokeWidth": 1.3},
     "encoding": {
      "x": {"field": "t", "type": "quantitative", "scale": {"domain": [0, 270.7], "range": [0, 157], "nice": false, "zero": false}, "axis": {"values": [0, 50, 100, 150, 200, 250], "tickCount": 40, "labelOverlap": false, "title": "Time after infection (h)", "titlePadding": 8}},
      "y": {"field": "s", "type": "quantitative", "scale": {"domain": [0, 109.7], "nice": false}, "axis": {"values": [0, 20, 40, 60, 80, 100], "tickCount": 40, "labelOverlap": false, "title": "Survival rate (%)"}},
      "stroke": {"field": "g", "type": "nominal", "scale": {"domain": ["WT", "Hjv⁻/⁻"], "range": ["black", "black"]},
       "legend": {"title": null, "orient": "none", "legendX": 114, "legendY": 4.3, "rowPadding": 1.3, "labelOffset": 7.7, "symbolSize": 100, "symbolFillColor": "black", "symbolStrokeWidth": 0,
        "symbolType": {"expr": "datum.value == 'WT' ? 'M-2.2,-0.12H2.2V0.12H-2.2Z M-0.5,-0.5H0.5V0.5H-0.5Z' : 'M-2.2,-0.12H2.2V0.12H-2.2Z M0.55,0A0.55,0.55,0,1,1,-0.55,0A0.55,0.55,0,1,1,0.55,0Z'"},
        "labelFontStyle": {"expr": "datum.label == 'WT' ? 'normal' : 'italic'"}}},
      "order": {"field": "t"}}},
    {"data": {"name": "h_pts"}, "mark": {"type": "point", "filled": true, "color": "black", "opacity": 1, "size": 24},
     "encoding": {
      "x": {"field": "t", "type": "quantitative"}, "y": {"field": "s", "type": "quantitative"},
      "shape": {"field": "g", "type": "nominal", "scale": {"domain": ["Hjv⁻/⁻", "WT"], "range": ["circle", "square"]}, "legend": null}}},
    {"data": {"values": [{"label": "S. aureus", "t": 112, "s": 111.7}]}, "mark": {"type": "text", "color": "black", "fontStyle": "italic", "fontSize": 12.5, "baseline": "alphabetic"},
     "encoding": {"x": {"field": "t", "type": "quantitative"}, "y": {"field": "s", "type": "quantitative"}, "text": {"field": "label"}}},
    {"data": {"values": [{"p": "P", "v": "=0.0067", "t": 139, "s": 19.4}]}, "mark": {"type": "text", "color": "black", "fontStyle": "italic", "fontSize": 12.5, "baseline": "alphabetic", "align": "right"},
     "encoding": {"x": {"field": "t", "type": "quantitative"}, "y": {"field": "s", "type": "quantitative"}, "text": {"field": "p"}}},
    {"data": {"values": [{"p": "P", "v": "=0.0067", "t": 139, "s": 19.4}]}, "mark": {"type": "text", "color": "black", "fontSize": 12.5, "baseline": "alphabetic", "align": "left"},
     "encoding": {"x": {"field": "t", "type": "quantitative"}, "y": {"field": "s", "type": "quantitative"}, "text": {"field": "v"}}}
   ]
  }
 ]
}
